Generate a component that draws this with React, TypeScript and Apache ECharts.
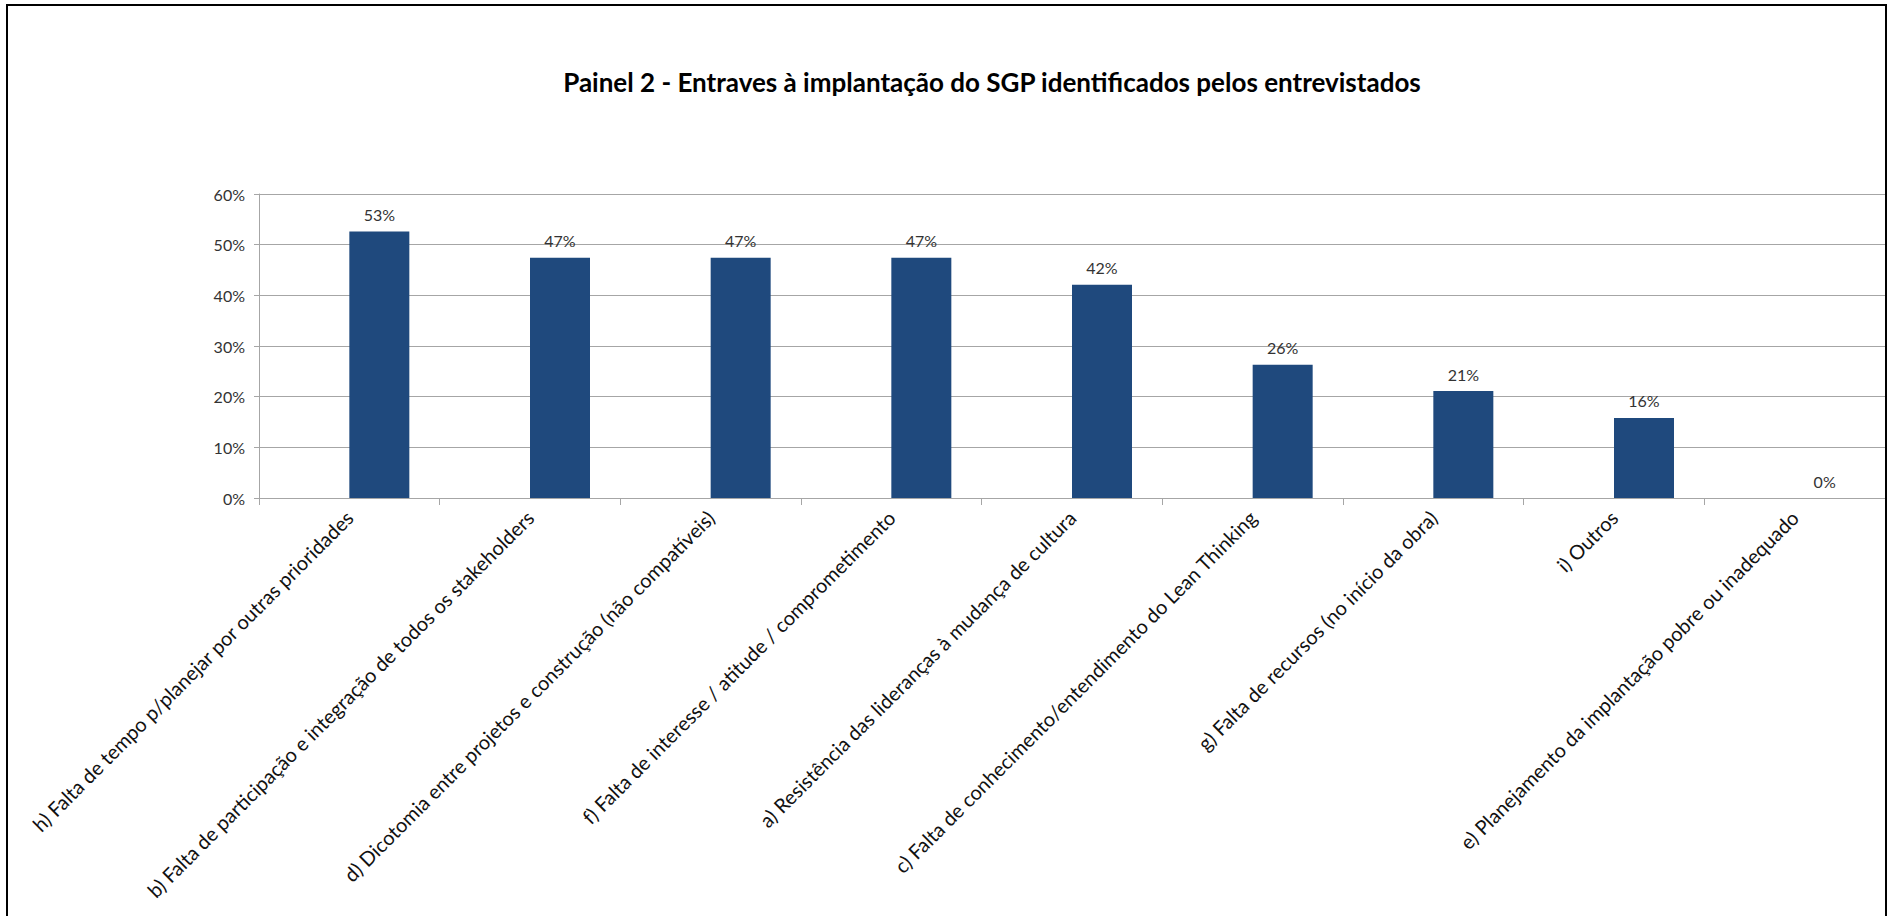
import React, { useEffect, useRef } from "react";
import * as echarts from "echarts";

const titleText = "Painel 2 - Entraves à implantação do SGP identificados pelos entrevistados";

const categories = [
  "h) Falta de tempo p/planejar por outras prioridades",
  "b) Falta de participação e integração de todos os stakeholders",
  "d) Dicotomia entre projetos e construção (não compatíveis)",
  "f) Falta de interesse / atitude / comprometimento",
  "a) Resistência das lideranças à mudança de cultura",
  "c) Falta de conhecimento/entendimento do Lean Thinking",
  "g) Falta de recursos (no início da obra)",
  "i) Outros",
  "e) Planejamento da implantação pobre ou inadequado",
];

const values = [52.6, 47.4, 47.4, 47.4, 42.1, 26.3, 21.1, 15.8, 0];

// empty first series of the clustered layout (the original chart reserves its slot)
const emptySlot = categories.map(() => null);

const yTicks = [0, 10, 20, 30, 40, 50, 60];

const FONT = "Lato, 'Noto Sans', sans-serif";

export default function App() {
  const ref = useRef<HTMLDivElement>(null);
  useEffect(() => {
    if (!ref.current) return;
    const chart = echarts.init(ref.current, null, { renderer: "svg" });
    chart.setOption({
      animation: false,
      backgroundColor: "#ffffff",
      title: {
        text: titleText,
        left: 987,
        top: 64,
        textAlign: "center",
        textStyle: { fontFamily: FONT, fontWeight: "bold", fontSize: 26, color: "#000000" },
      },
      graphic: [
        {
          type: "rect",
          shape: { x: 7, y: 5, width: 1879, height: 930 },
          style: { fill: "none", stroke: "#000000", lineWidth: 2 },
          silent: true,
          z: 100,
        },
      ],
      grid: {
        left: 259,
        right: 5,
        top: 194,
        height: 304,
        containLabel: false,
        outerBoundsMode: "none",
      },
      xAxis: {
        type: "category",
        data: categories,
        axisLine: { show: true, lineStyle: { color: "#a6a6a6", width: 1 } },
        axisTick: { show: true, alignWithLabel: false, length: 7, lineStyle: { color: "#a6a6a6" } },
        axisLabel: {
          interval: 0,
          rotate: 45,
          margin: 16,
          fontFamily: FONT,
          fontSize: 20,
          color: "#111111",
        },
      },
      yAxis: {
        type: "value",
        min: yTicks[0],
        max: yTicks[yTicks.length - 1],
        interval: 10,
        axisLine: { show: true, lineStyle: { color: "#a6a6a6", width: 1 } },
        axisTick: { show: true, length: 5, lineStyle: { color: "#a6a6a6" } },
        splitLine: { show: true, lineStyle: { color: "#a6a6a6", width: 1 } },
        axisLabel: {
          formatter: (v: number) => `${v}%`,
          margin: 14,
          fontFamily: FONT,
          fontSize: 16,
          color: "#333333",
        },
      },
      series: [
        {
          type: "bar",
          data: emptySlot,
          barWidth: 60,
          barGap: "0%",
          silent: true,
          itemStyle: { color: "#4f81bd" },
        },
        {
          type: "bar",
          data: values,
          barWidth: 60,
          barGap: "0%",
          itemStyle: { color: "#1f497d" },
          label: {
            show: true,
            position: "top",
            distance: 9,
            formatter: (p: any) => `${Math.round(p.value)}%`,
            fontFamily: FONT,
            fontSize: 16,
            color: "#333333",
          },
        },
      ],
    });
    return () => chart.dispose();
  }, []);
  return (
    <div
      ref={ref}
      style={{ position: "absolute", left: 0, top: 0, width: 1890, height: 916 }}
    />
  );
}
